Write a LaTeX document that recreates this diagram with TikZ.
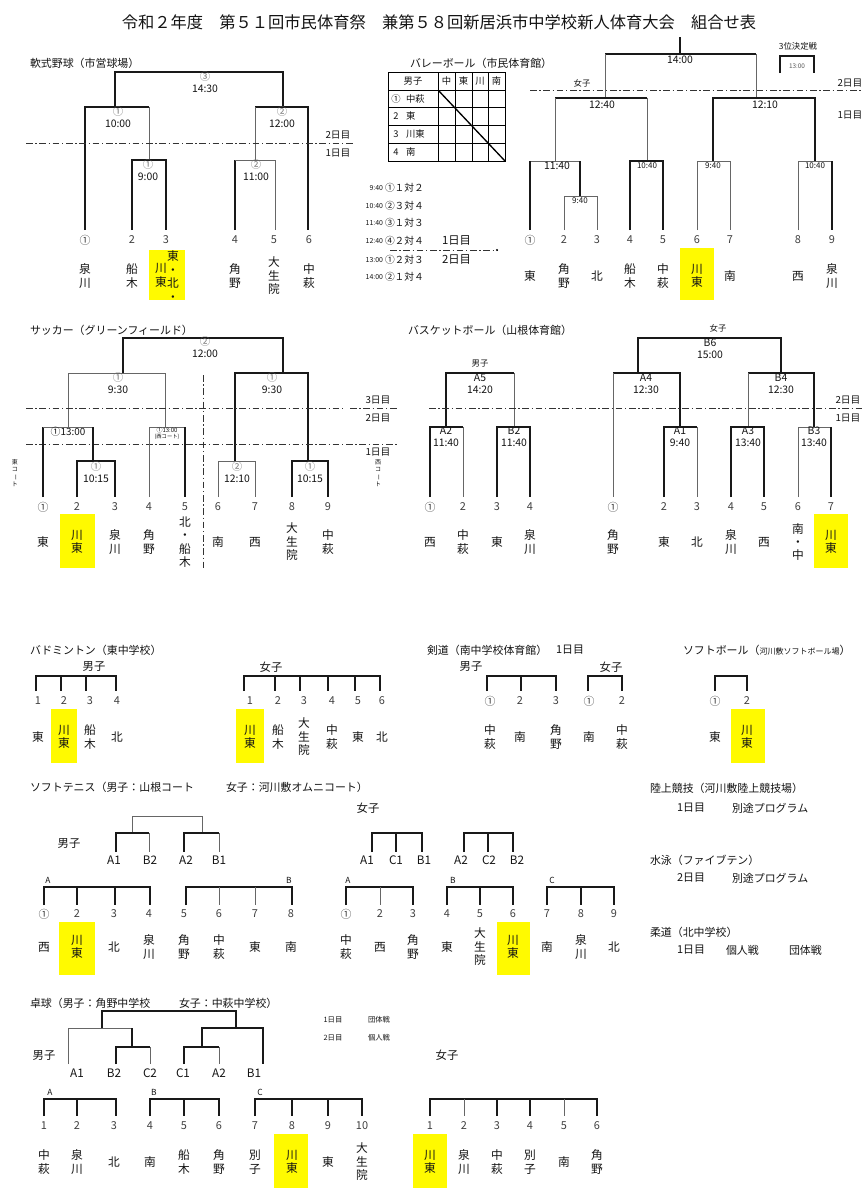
\documentclass[tikz,border=0pt]{standalone}
\usepackage{fontspec}
\setmainfont{Noto Sans CJK JP}
\usepackage{graphicx}
\definecolor{hly}{RGB}{255,250,0}
\newcounter{tnode}
\newcommand{\Tx}[3][]{\stepcounter{tnode}\node[#1] (t\arabic{tnode}) at (#2) {#3};}
\newcommand{\tatebar}{\rotatebox[origin=c]{-90}{ー}}
\begin{document}
\begin{tikzpicture}[x=0.75pt,y=-0.75pt,
  every node/.style={inner sep=0pt,outer sep=0pt,text=black!92},
  tk/.style={line width=0.85pt,draw=black!90},
  tn/.style={line width=0.45pt,draw=black!60},
  dd/.style={line width=0.5pt,draw=black!80,dash pattern=on 5pt off 2pt on 1pt off 2pt},
  hl/.style={fill=hly},
  big/.style={font=\fontsize{12.2}{14}\selectfont},
  sec/.style={font=\fontsize{8.2}{10}\selectfont,anchor=west},
  nm/.style={font=\fontsize{8.8}{10.1}\selectfont,align=center},
  num/.style={font=\fontsize{8.2}{10}\selectfont,text=black!75},
  tm/.style={font=\fontsize{7.8}{9}\selectfont,align=center},
  day/.style={font=\fontsize{7.3}{9}\selectfont},
  sm/.style={font=\fontsize{6.3}{7.5}\selectfont,align=center},
  tb/.style={font=\fontsize{7}{8}\selectfont},
  lb/.style={font=\fontsize{8.5}{10}\selectfont},
  tiny/.style={font=\fontsize{4.5}{5.5}\selectfont,align=center},
]
\useasboundingbox (0,0) rectangle (863,1200);
\fill[white] (0,0) rectangle (863,1200);

% ---------- highlight boxes ----------
\fill[hl] (149,250) rectangle (185,300);
\fill[hl] (680,248) rectangle (714,300);
\fill[hl] (60,514) rectangle (95,568);
\fill[hl] (814,514) rectangle (848,568);
\fill[hl] (51,709) rectangle (77,763);
\fill[hl] (236,709) rectangle (264,763);
\fill[hl] (731,709) rectangle (765,763);
\fill[hl] (59,922) rectangle (95,975);
\fill[hl] (497,922) rectangle (530,975);
\fill[hl] (274,1134) rectangle (308,1188);
\fill[hl] (413,1134) rectangle (447,1188);

% ---------- title ----------
\Tx[big]{439,22}{令和２年度　第５１回市民体育祭　兼第５８回新居浜市中学校新人体育大会　組合せ表}

% ---------- baseball ----------
\Tx[sec]{30,63}{軟式野球（市営球場）}
\draw[tk] (115,107) |- (283,72) -- (283,107);
\draw[tk] (85,230) |- (149,107);
\draw[tn] (149,107) -- (149,160);
\draw[tk] (255,107) -- (308,107) -- (308,230);
\draw[tn] (255,107) -- (255,160);
\draw[tk] (132,230) |- (166,160) -- (166,230);
\draw[tk] (235,230) -- (235,160);
\draw[tn] (235,160) -- (275,160) -- (275,230);
\Tx[tm]{205,82}{{\color{black!55}③}\\14:30}
\Tx[tm]{118,117.5}{{\color{black!55}①}\\10:00}
\Tx[tm]{282,117.5}{{\color{black!55}②}\\12:00}
\Tx[tm]{148,170.5}{{\color{black!55}①}\\9:00}
\Tx[tm]{256,170.5}{{\color{black!55}②}\\11:00}
\draw[dd] (26,143) -- (353,143);
\Tx[day]{338,135}{2日目}
\Tx[day]{338,153}{1日目}
\foreach \x/\t in {85/①,132/2,166/3,235/4,274/5,309/6}{\Tx[num]{\x,240}{\t}}
\foreach \x/\t in {85/{泉\\川},132/{船\\木},235/{角\\野},274/{大\\生\\院},309/{中\\萩}}{\Tx[nm]{\x,276}{\t}}
\Tx[nm]{161,275.5}{川\\東}
\Tx[nm]{173,276}{東\\・\\北\\・}

% ---------- volleyball ----------
\Tx[sec]{410,63}{バレーボール（市民体育館）}
\draw[line width=0.7pt] (388,72) rectangle (505,161);
\foreach \yy in {90,107,125,143}{\draw[line width=0.6pt] (388,\yy) -- (505,\yy);}
\draw[line width=0.7pt] (438,72) -- (438,161);
\foreach \xx in {455,472,488}{\draw[line width=0.5pt] (\xx,72) -- (\xx,161);}
\draw[line width=1pt] (438,90) -- (505,161);
\Tx[tb]{413,81}{男子}
\foreach \x/\t in {446.5/中,463.5/東,480/川,496.5/南}{\Tx[tb]{\x,81}{\t}}
\foreach \yy/\a/\b in {98.5/①/中萩,116/2/東,134/3/川東,152/4/南}{\Tx[tb]{396,\yy}{\a}\Tx[tb,anchor=west]{406,\yy}{\b}}
\foreach \yy/\a/\b in {188/9:40/①１対２,206/10:40/②３対４,223/11:40/③１対３,241/12:40/④２対４,260/13:00/①２対３,277/14:00/②１対４}{\Tx[font=\fontsize{5.2}{6}\selectfont,anchor=east]{383,\yy}{\a}\Tx[font=\fontsize{7.3}{9}\selectfont,anchor=west]{385,\yy}{\b}}
\Tx[lb,anchor=west]{442,241}{1日目}
\Tx[lb,anchor=west]{442,260}{2日目}
\draw[dd] (390,250) -- (497,250);
\fill (497,250) circle (1.1);
% girls bracket
\draw[tk] (680,37) -- (680,54);
\draw[tk] (605,54) -- (756,54);
\draw[tn] (605,54) -- (605,98);
\draw[tn] (756,54) -- (756,98);
\Tx[tm]{680,60}{14:00}
\Tx[sm]{798,46}{3位決定戦}
\draw[tk] (780,73) |- (814,56) -- (814,73);
\Tx[font=\fontsize{4.8}{6}\selectfont,text=black!65]{797,66}{13:00}
\Tx[sm]{582,83}{女子}
\draw[dd] (530,90) -- (863,90);
\Tx[day]{850,83}{2日目}
\Tx[day]{850,115}{1日目}
\draw[tk] (555,98) -- (647,98);
\draw[tn] (555,98) -- (555,161);
\draw[tn] (647,98) -- (647,161);
\Tx[tm]{602,105}{12:40}
\draw[tk] (713,161) |- (815,98) -- (815,161);
\Tx[tm]{765,105}{12:10}
\draw[tn] (530,161) -- (580,161);
\draw[tk] (530,161) -- (530,230);
\draw[tk] (580,161) -- (580,196);
\Tx[tm]{557,166}{11:40}
\draw[tn] (564,230) |- (597,196) -- (597,230);
\Tx[font=\fontsize{6}{7}\selectfont]{580,201}{9:40}
\draw[tk] (630,230) |- (663,161) -- (663,230);
\Tx[font=\fontsize{6}{7}\selectfont]{647,166}{10:40}
\draw[tn] (697,230) |- (730,161) -- (730,230);
\Tx[font=\fontsize{6}{7}\selectfont]{713,166}{9:40}
\draw[tn] (798,230) |- (832,161);
\draw[tk] (832,161) -- (832,230);
\Tx[font=\fontsize{6}{7}\selectfont]{815,166}{10:40}
\foreach \x/\t in {530/①,564/2,597/3,630/4,663/5,697/6,730/7,798/8,832/9}{\Tx[num]{\x,240}{\t}}
\foreach \x/\t in {530/東,564/{角\\野},597/北,630/{船\\木},663/{中\\萩},697/{川\\東},730/南,798/西,832/{泉\\川}}{\Tx[nm]{\x,276}{\t}}

% ---------- soccer ----------
\Tx[sec]{30,330}{サッカー（グリーンフィールド）}
\draw[tk] (123,373) |- (283,338) -- (283,373);
\Tx[tm]{205,347.5}{{\color{black!55}②}\\12:00}
\draw[tn] (68,427) |- (165,373) -- (165,427);
\Tx[tm]{118,383.5}{{\color{black!55}①}\\9:30}
\draw[tk] (235,461) |- (308,373) -- (308,461);
\Tx[tm]{272,383.5}{{\color{black!55}①}\\9:30}
\draw[dd] (26,408) -- (345,408);
\draw[dd] (350,408) -- (398,408);
\draw[dd] (26,444) -- (398,444);
\Tx[day]{378,400}{3日目}
\Tx[day]{378,418}{2日目}
\Tx[day]{378,452}{1日目}
\draw[dd] (203,375) -- (203,570);
\draw[tk] (43,497) -- (43,427);
\draw[tn] (43,427) -- (93,427);
\draw[tk] (93,427) -- (93,461);
\Tx[font=\fontsize{7.4}{9}\selectfont]{68,432}{①13:00}
\draw[tk] (77,497) |- (115,461) -- (115,497);
\Tx[tm]{96,472.5}{{\color{black!55}①}\\10:15}
\draw[tn] (149,497) |- (185,427);
\draw[tk] (185,427) -- (185,497);
\Tx[font=\fontsize{4.5}{5}\selectfont]{167,430.5}{①13:00}
\Tx[font=\fontsize{4}{5}\selectfont]{167,437}{(西コート)}
\draw[tn] (218,497) |- (255,461) -- (255,497);
\Tx[tm]{237,472.5}{{\color{black!55}②}\\12:10}
\draw[tk] (292,497) |- (328,461) -- (328,497);
\Tx[tm]{310,472.5}{{\color{black!55}①}\\10:15}
\Tx[tiny]{15,473}{東\\コ\\\tatebar\\ト}
\Tx[tiny]{378,473}{西\\コ\\\tatebar\\ト}
\foreach \x/\t in {43/①,77/2,115/3,149/4,185/5,218/6,255/7,292/8,328/9}{\Tx[num]{\x,507}{\t}}
\foreach \x/\t in {43/東,77/{川\\東},115/{泉\\川},149/{角\\野},185/{北\\・\\船\\木},218/南,255/西,292/{大\\生\\院},328/{中\\萩}}{\Tx[nm]{\x,542}{\t}}

% ---------- basketball ----------
\Tx[sec]{408,330}{バスケットボール（山根体育館）}
\Tx[sm]{718,328}{女子}
\draw[tk] (638,373) |- (781,338) -- (781,373);
\Tx[tm]{710,348.5}{B6\\15:00}
\Tx[sm]{480,364}{男子}
\draw[tk] (446,427) |- (514,373);
\draw[tn] (514,373) -- (514,427);
\Tx[tm]{480,383.5}{A5\\14:20}
\draw[tk] (613,373) -- (680,373) -- (680,427);
\draw[tn] (613,373) -- (613,497);
\Tx[tm]{646,383.5}{A4\\12:30}
\draw[tk] (748,373) -- (814,373) -- (814,427);
\draw[tn] (748,373) -- (748,427);
\Tx[tm]{781,383.5}{B4\\12:30}
\draw[dd] (429,408) -- (863,408);
\Tx[day]{848,400}{2日目}
\Tx[day]{848,418}{1日目}
\draw[tk] (430,497) |- (463,427);
\draw[tn] (463,427) -- (463,497);
\Tx[tm]{446,437}{A2\\11:40}
\draw[tk] (497,497) |- (530,427) -- (530,497);
\Tx[tm]{514,437}{B2\\11:40}
\draw[tk] (664,497) |- (697,427);
\draw[tn] (697,427) -- (697,497);
\Tx[tm]{680,437}{A1\\9:40}
\draw[tk] (731,497) |- (764,427) -- (764,497);
\Tx[tm]{748,437}{A3\\13:40}
\draw[tn] (798,497) |- (831,427);
\draw[tk] (831,427) -- (831,497);
\Tx[tm]{814,437}{B3\\13:40}
\foreach \x/\t in {430/①,463/2,497/3,530/4,613/①,664/2,697/3,731/4,764/5,798/6,831/7}{\Tx[num]{\x,507}{\t}}
\foreach \x/\t in {430/西,463/{中\\萩},497/東,530/{泉\\川},613/{角\\野},664/東,697/北,731/{泉\\川},764/西,798/{南\\・\\中},831/{川\\東}}{\Tx[nm]{\x,542}{\t}}

% ---------- badminton ----------
\Tx[sec]{30,650}{バドミントン（東中学校）}
\Tx[lb]{94,667}{男子}
\draw[tk] (36,691) |- (116,676) -- (116,691);
\foreach \xx in {61,86}{\draw[tk] (\xx,676) -- (\xx,691);}
\foreach \x/\t in {38/1,64/2,90/3,117/4}{\Tx[num]{\x,701}{\t}}
\foreach \x/\t in {38/東,64/{川\\東},90/{船\\木},117/北}{\Tx[nm]{\x,737}{\t}}
\Tx[lb]{271,667}{女子}
\draw[tk] (244,691) |- (380,676) -- (380,691);
\foreach \xx in {275,300,328,355}{\draw[tk] (\xx,676) -- (\xx,691);}
\foreach \x/\t in {250/1,278/2,304/3,332/4,358/5,382/6}{\Tx[num]{\x,701}{\t}}
\foreach \x/\t in {250/{川\\東},278/{船\\木},304/{大\\生\\院},332/{中\\萩},358/東,382/北}{\Tx[nm]{\x,737}{\t}}

% ---------- kendo ----------
\Tx[sec]{427,650}{剣道（南中学校体育館）}
\Tx[sec]{556,650}{1日目}
\Tx[lb]{471,667}{男子}
\draw[tk] (487,691) |- (556,676) -- (556,691);
\draw[tk] (521,676) -- (521,691);
\foreach \x/\t in {490/①,520/2,556/3}{\Tx[num]{\x,701}{\t}}
\foreach \x/\t in {490/{中\\萩},520/南,556/{角\\野}}{\Tx[nm]{\x,737}{\t}}
\Tx[lb]{611,667}{女子}
\draw[tk] (588,691) |- (622,676) -- (622,691);
\foreach \x/\t in {589/①,622/2}{\Tx[num]{\x,701}{\t}}
\foreach \x/\t in {589/南,622/{中\\萩}}{\Tx[nm]{\x,737}{\t}}

% ---------- softball ----------
\Tx[sec]{683,650}{ソフトボール（{\fontsize{6}{7}\selectfont 河川敷ソフトボール場}）}
\draw[tk] (715,691) |- (747,676) -- (747,691);
\foreach \x/\t in {715/①,747/2}{\Tx[num]{\x,701}{\t}}
\foreach \x/\t in {715/東,747/{川\\東}}{\Tx[nm]{\x,737}{\t}}

% ---------- soft tennis ----------
\Tx[sec]{30,787}{ソフトテニス（男子：山根コート}
\Tx[sec]{226,787}{女子：河川敷オムニコート）}
\draw[tn] (132,833) |- (202,816) -- (202,833);
\draw[tk] (116,852) |- (149,833);
\draw[tn] (149,833) -- (149,852);
\draw[tk] (184,852) |- (219,833);
\draw[tn] (219,833) -- (219,852);
\foreach \x/\t in {114/A1,150/B2,186/A2,219/B1}{\Tx[font=\fontsize{8.8}{10}\selectfont]{\x,860}{\t}}
\Tx[lb]{69,843}{男子}
\Tx[lb]{368,808}{女子}
\draw[tk] (372,852) |- (422,833) -- (422,852);
\draw[tk] (396,833) -- (396,852);
\draw[tk] (464,852) |- (513,833) -- (513,852);
\draw[tk] (488,833) -- (488,852);
\foreach \x/\t in {367/A1,396/C1,424/B1,461/A2,489/C2,517/B2}{\Tx[font=\fontsize{8.8}{10}\selectfont]{\x,860}{\t}}
\foreach \x/\t in {48/A,289/B,348/A,453/B,552/C}{\Tx[font=\fontsize{6.3}{7}\selectfont]{\x,880}{\t}}
\draw[tk] (44,905) |- (150,887) -- (150,905);
\foreach \xx in {77,115}{\draw[tk] (\xx,887) -- (\xx,905);}
\draw[tk] (186,905) |- (292,887) -- (292,905);
\foreach \xx in {219,255}{\draw[tn] (\xx,887) -- (\xx,905);}
\draw[tk] (346,905) |- (413,887) -- (413,905);
\draw[tn] (380,887) -- (380,905);
\draw[tk] (447,905) |- (513,887) -- (513,905);
\draw[tk] (480,887) -- (480,905);
\draw[tk] (547,905) |- (614,887) -- (614,905);
\draw[tk] (581,887) -- (581,905);
\foreach \x/\t in {44/①,77/2,114/3,149/4,184/5,219/6,255/7,291/8,346/①,380/2,413/3,447/4,480/5,513/6,547/7,581/8,614/9}{\Tx[num]{\x,914}{\t}}
\foreach \x/\t in {44/西,77/{川\\東},114/北,149/{泉\\川},184/{角\\野},219/{中\\萩},255/東,291/南,346/{中\\萩},380/西,413/{角\\野},447/東,480/{大\\生\\院},513/{川\\東},547/南,581/{泉\\川},614/北}{\Tx[nm]{\x,947}{\t}}

% ---------- right column ----------
\Tx[sec]{650,788}{陸上競技（河川敷陸上競技場）}
\Tx[sec]{677,808}{1日目}
\Tx[sec]{732,808}{別途プログラム}
\Tx[sec]{650,860}{水泳（ファイブテン）}
\Tx[sec]{677,878}{2日目}
\Tx[sec]{732,878}{別途プログラム}
\Tx[sec]{650,932}{柔道（北中学校）}
\Tx[sec]{677,950}{1日目}
\Tx[sec]{726,950}{個人戦}
\Tx[sec]{789,950}{団体戦}

% ---------- table tennis ----------
\Tx[sec]{30,1003}{卓球（男子：角野中学校}
\Tx[sec]{179,1003}{女子：中萩中学校）}
\draw[tk] (102,1028) |- (236,1011) -- (236,1028);
\draw[tn] (68,1064) |- (132,1028);
\draw[tk] (132,1028) -- (132,1047);
\draw[tk] (116,1064) |- (150,1047);
\draw[tn] (150,1047) -- (150,1064);
\draw[tk] (202,1047) |- (263,1028) -- (263,1064);
\draw[tk] (184,1064) |- (219,1047);
\draw[tn] (219,1047) -- (219,1064);
\foreach \x/\t in {77/A1,114/B2,150/C2,183/C1,219/A2,254/B1}{\Tx[font=\fontsize{8.8}{10}\selectfont]{\x,1073}{\t}}
\Tx[lb]{44,1055}{男子}
\Tx[lb]{447,1055}{女子}
\Tx[font=\fontsize{5.5}{7}\selectfont]{333,1020}{1日目}
\Tx[font=\fontsize{5.5}{7}\selectfont]{379,1020}{団体戦}
\Tx[font=\fontsize{5.5}{7}\selectfont]{333,1038}{2日目}
\Tx[font=\fontsize{5.5}{7}\selectfont]{379,1038}{個人戦}
\foreach \x/\t in {50/A,154/B,260/C}{\Tx[font=\fontsize{6.3}{7}\selectfont]{\x,1092}{\t}}
\draw[tk] (44,1116) |- (116,1099) -- (116,1116);
\draw[tk] (77,1099) -- (77,1116);
\draw[tk] (150,1116) |- (219,1099) -- (219,1116);
\draw[tk] (184,1099) -- (184,1116);
\draw[tk] (255,1116) |- (362,1099) -- (362,1116);
\foreach \xx in {292,328}{\draw[tk] (\xx,1099) -- (\xx,1116);}
\draw[tk] (430,1116) |- (597,1099) -- (597,1116);
\foreach \xx in {464,564}{\draw[tn] (\xx,1099) -- (\xx,1116);}
\foreach \xx in {497,530}{\draw[tk] (\xx,1099) -- (\xx,1116);}
\foreach \x/\t in {44/1,77/2,114/3,150/4,184/5,219/6,255/7,292/8,328/9,362/10,430/1,464/2,497/3,530/4,564/5,597/6}{\Tx[num]{\x,1126}{\t}}
\foreach \x/\t in {44/{中\\萩},77/{泉\\川},114/北,150/南,184/{船\\木},219/{角\\野},255/{別\\子},292/{川\\東},328/東,362/{大\\生\\院},430/{川\\東},464/{泉\\川},497/{中\\萩},530/{別\\子},564/南,597/{角\\野}}{\Tx[nm]{\x,1162}{\t}}
\end{tikzpicture}
\end{document}
